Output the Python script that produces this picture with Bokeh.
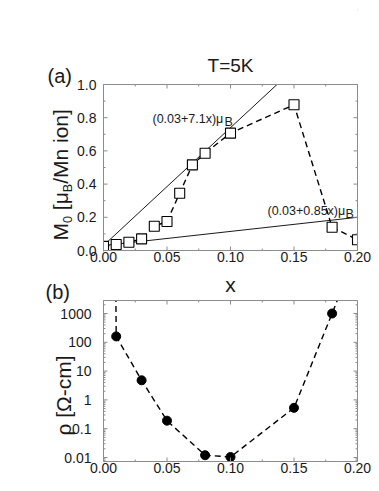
import math
from bokeh.plotting import figure
from bokeh.models import Range1d
from bokeh.core.properties import value
from bokeh.layouts import column
from bokeh.embed import file_html
from bokeh.resources import INLINE

# ---------------- data ----------------
m_x = [0.00, 0.01, 0.02, 0.03, 0.04, 0.05, 0.06, 0.07, 0.08, 0.10, 0.15, 0.18, 0.20]
m_vals = [0.025, 0.036, 0.05, 0.07, 0.146, 0.175, 0.345, 0.516, 0.586, 0.707, 0.878, 0.14, 0.065]

fit1_intercept, fit1_slope = 0.03, 7.1
fit2_intercept, fit2_slope = 0.03, 0.85

rho_x = [0.01, 0.03, 0.05, 0.08, 0.10, 0.15, 0.18]
rho_vals = [160, 4.8, 0.19, 0.012, 0.0104, 0.53, 1000]
# dashed guide incl. its continuation beyond the top of the frame
rho_line_x = [0.0095] + rho_x + [0.19]
rho_line_y = [1e5] + rho_vals + [1.3e4]

x_lim = (0.0, 0.2)
m_lim = (0.0, 1.0)
rho_lim = (0.00726, 2826.0)

x_ticks = [0.0, 0.05, 0.10, 0.15, 0.20]
x_tick_labels = ["0.00", "0.05", "0.10", "0.15", "0.20"]
x_minor = [0.025, 0.075, 0.125, 0.175]
m_ticks = [0.0, 0.2, 0.4, 0.6, 0.8, 1.0]
m_tick_labels = ["0.0", "0.2", "0.4", "0.6", "0.8", "1.0"]
m_minor = [0.1, 0.3, 0.5, 0.7, 0.9]
rho_ticks = [0.01, 0.1, 1, 10, 100, 1000]
rho_tick_labels = ["0.01", "0.1", "1", "10", "100", "1000"]

FONT = "Liberation Sans"
GRAY = "#8c8c8c"
TXT = "#1a1a1a"
W = 379

# ---------------- geometry (pixels) ----------------
PX_X = 1270.0           # px per x unit (both panels)
FRAME_LEFT = 103.0      # page x of x = 0
# panel (a)
A_H = 272
A_Y0 = 250.0            # page y of M = 0
PX_M = 166.0            # px per M unit
# panel (b)
B_TOP = 272             # page y where panel (b) starts
B_H = 219
B_Y1000 = 313.0         # page y of rho = 1000
PX_DEC = 28.8           # px per decade


def xa(px):
    return (px - FRAME_LEFT) / PX_X


def ya(py):
    return (A_Y0 - py) / PX_M


def yb(py):
    return 10 ** (3 + (B_Y1000 - py) / PX_DEC)


def new_fig(h, yr, ytype="linear"):
    p = figure(width=W, height=h, x_range=Range1d(xa(0), xa(W)), y_range=yr,
               y_axis_type=ytype, x_axis_location=None, y_axis_location=None,
               output_backend="svg", toolbar_location=None, min_border=0,
               outline_line_color=None)
    p.grid.visible = False
    return p


def txt(p, xs, ys, texts, size, align="left", baseline="middle", angle=0.0):
    p.text(x=xs, y=ys, text=texts, angle=angle, text_font=value(FONT),
           text_font_size=value(size), text_align=align, text_baseline=baseline,
           text_color=TXT)


def masks(p, x0, x1, ylo, yhi, yr):
    xs, xe = p.x_range.start, p.x_range.end
    ys, ye = yr
    p.quad(left=[xs, x1, x0, x0], right=[x0, xe, x1, x1],
           bottom=[ys, ys, ys, yhi], top=[ye, ye, ylo, ye],
           fill_color="white", line_color=None)
    p.quad(left=[x0], right=[x1], bottom=[ylo], top=[yhi], fill_color=None,
           line_color=GRAY, line_width=1)


# ================= panel (a) =================
a_yr = (ya(A_H), ya(0))
pa = new_fig(A_H, Range1d(*a_yr))

fx = [x_lim[0], x_lim[1]]
pa.line(fx, [fit1_intercept + fit1_slope * v for v in fx], line_color="black", line_width=0.9)
pa.line(fx, [fit2_intercept + fit2_slope * v for v in fx], line_color="black", line_width=0.9)
pa.line(m_x, m_vals, line_color="black", line_width=1.4, line_dash="6 4")
pa.scatter(m_x, m_vals, marker="square", size=10, fill_color="white",
           line_color="black", line_width=1.1)

masks(pa, x_lim[0], x_lim[1], m_lim[0], m_lim[1], a_yr)


def lin_ticks(p, xt, xm, yt, ym, ylo, yhi, pxy):
    segs = []
    for ticks, ln in ((xt, 4), (xm, 2)):
        for t in ticks:
            segs.append((t, ylo, t, ylo + ln / pxy))
            segs.append((t, yhi, t, yhi - ln / pxy))
    for ticks, ln in ((yt, 4), (ym, 2)):
        for t in ticks:
            segs.append((x_lim[0], t, x_lim[0] + ln / PX_X, t))
            segs.append((x_lim[1], t, x_lim[1] - ln / PX_X, t))
    p.segment(x0=[s[0] for s in segs], y0=[s[1] for s in segs],
              x1=[s[2] for s in segs], y1=[s[3] for s in segs],
              line_color=GRAY, line_width=1)


lin_ticks(pa, x_ticks, x_minor, m_ticks, m_minor, m_lim[0], m_lim[1], PX_M)

txt(pa, x_ticks, [ya(A_Y0 + 1)] * len(x_ticks), x_tick_labels, "14px", "center", "top")
txt(pa, [xa(FRAME_LEFT - 7)] * len(m_ticks), m_ticks, m_tick_labels, "14px", "right", "middle")

# fit annotations
txt(pa, [xa(152), xa(152 + 72)], [ya(118), ya(121)], ["(0.03+7.1x)μ", "B"],
    "12.5px", "left", "alphabetic")
txt(pa, [xa(267), xa(267 + 78)], [ya(210), ya(213)], ["(0.03+0.85x)μ", "B"],
    "12.5px", "left", "alphabetic")

# title and panel letter
txt(pa, [0.1], [ya(65)], ["T=5K"], "19px", "center", "middle")
txt(pa, [xa(47)], [ya(75)], ["(a)"], "20px", "left", "middle")

# rotated y label M0 [muB/Mn ion] with subscripts
FS, SUB = 21.0, 12.6
# (text, font px, lead gap in em, advance in em, subscript?)
parts = [("M", FS, 0.0, 0.833, False), ("0", SUB, 0.0, 0.556, True),
         ("[μ", FS, 0.278, 0.854, False), ("B", SUB, 0.0, 0.667, True),
         ("/Mn ion]", FS, 0.0, 3.557, False)]
py = 240.0
for text, fs, gap, w, sub in parts:
    py -= gap * fs
    cx = 67.0 if sub else 59.5
    txt(pa, [xa(cx)], [ya(py)], [text], f"{fs}px", "left", "middle", math.pi / 2)
    py -= w * fs

# ================= panel (b) =================
b_yr = (yb(B_TOP + B_H), yb(B_TOP))
pb = new_fig(B_H, Range1d(*b_yr), "log")

pb.line(rho_line_x, rho_line_y, line_color="black", line_width=1.4, line_dash="6 4")
pb.scatter(rho_x, rho_vals, marker="circle", size=9, fill_color="black", line_color="black")

masks(pb, x_lim[0], x_lim[1], rho_lim[0], rho_lim[1], b_yr)


def log_ticks(p):
    segs = []
    lo, hi = math.log10(rho_lim[0]), math.log10(rho_lim[1])
    for ticks, ln in ((x_ticks, 4), (x_minor, 2)):
        for t in ticks:
            segs.append((t, rho_lim[0], t, 10 ** (lo + ln / PX_DEC)))
            segs.append((t, rho_lim[1], t, 10 ** (hi - ln / PX_DEC)))
    minor = [m * 10.0 ** e for e in range(-3, 4) for m in range(2, 10)]
    minor = [v for v in minor if rho_lim[0] < v < rho_lim[1]]
    for ticks, ln in ((rho_ticks, 4), (minor, 2)):
        for t in ticks:
            segs.append((x_lim[0], t, x_lim[0] + ln / PX_X, t))
            segs.append((x_lim[1], t, x_lim[1] - ln / PX_X, t))
    p.segment(x0=[s[0] for s in segs], y0=[s[1] for s in segs],
              x1=[s[2] for s in segs], y1=[s[3] for s in segs],
              line_color=GRAY, line_width=1)


log_ticks(pb)

txt(pb, x_ticks, [yb(462)] * len(x_ticks), x_tick_labels, "14px", "center", "top")
txt(pb, [xa(FRAME_LEFT - 12)] * len(rho_ticks), rho_ticks, rho_tick_labels, "14px", "right", "middle")

txt(pb, [0.1], [yb(284)], ["x"], "21px", "center", "middle")
txt(pb, [xa(45)], [yb(291)], ["(b)"], "20px", "left", "middle")
txt(pb, [xa(63)], [yb(395)], ["ρ [Ω-cm]"], "21px", "center", "middle", math.pi / 2)

layout = column(pa, pb, spacing=0)
open("out.html", "w").write(file_html(layout, INLINE))
